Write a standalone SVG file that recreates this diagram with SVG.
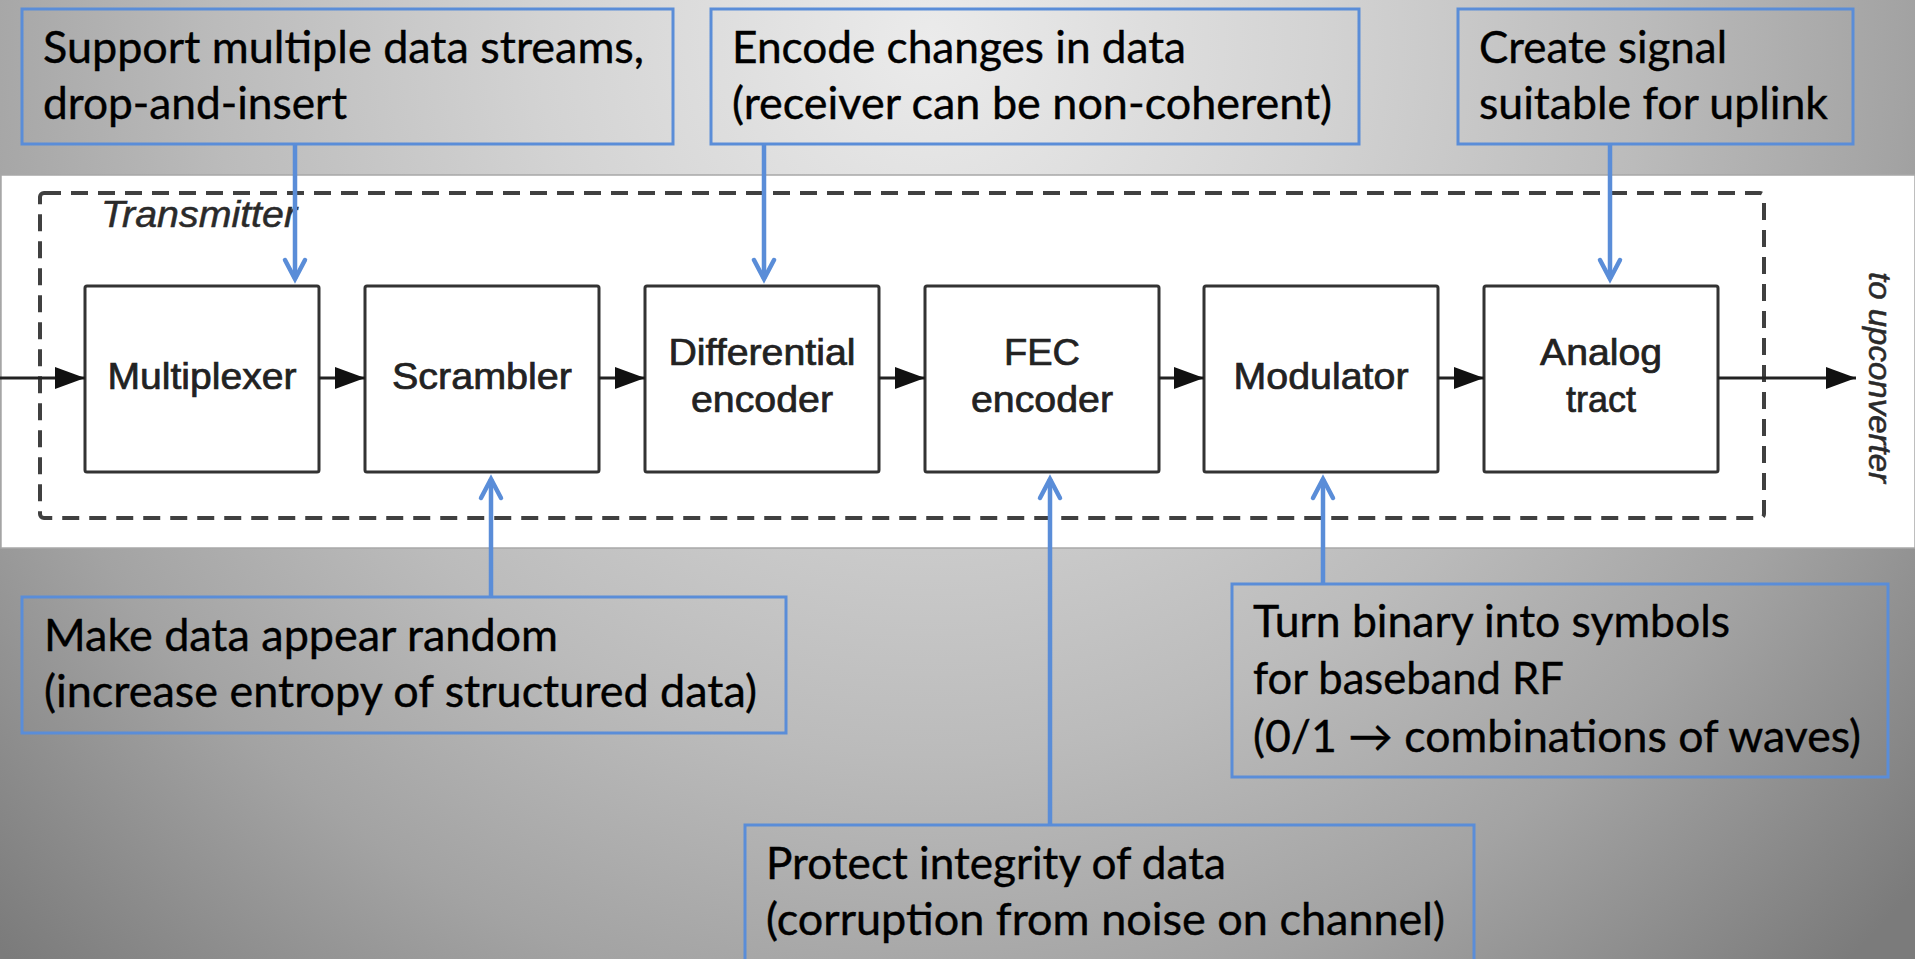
<svg xmlns="http://www.w3.org/2000/svg" width="1915" height="959" viewBox="0 0 1915 959">
  <defs>
    <radialGradient id="slideBg" gradientUnits="userSpaceOnUse" cx="930" cy="40" r="1300">
      <stop offset="0" stop-color="#ebebeb"/>
      <stop offset="0.3" stop-color="#d3d3d3"/>
      <stop offset="0.55" stop-color="#bbbbbb"/>
      <stop offset="0.75" stop-color="#a3a3a3"/>
      <stop offset="1" stop-color="#7b7b7b"/>
    </radialGradient>
    <!-- solid black arrowhead for the signal path -->
    <marker id="flowHead" markerUnits="userSpaceOnUse" orient="auto" overflow="visible" markerWidth="32" markerHeight="24" refX="0" refY="0">
      <path d="M-30,-11 L0,0 L-30,11 Z" fill="#111"/>
    </marker>
    <!-- open chevron for the blue callout pointers -->
    <marker id="calloutHead" markerUnits="userSpaceOnUse" orient="auto" overflow="visible" markerWidth="24" markerHeight="24" refX="0" refY="0">
      <path d="M-19,-10 L0,0 L-19,10" fill="none" stroke="#5a8dd8" stroke-width="4.5" stroke-linejoin="miter" stroke-linecap="round"/>
    </marker>
  </defs>
  <style>
    .callout { fill: none; stroke: #5a8dd8; stroke-width: 3; }
    .note { font-family: Lato, "Open Sans", "Liberation Sans", sans-serif; font-size: 44px; fill: #000; stroke: #000; stroke-width: 0.4; }
    .block { fill: #fff; stroke: #333; stroke-width: 3; }
    .blabel { font-family: "Liberation Sans", Arial, sans-serif; font-size: 36px; fill: #222; stroke: #222; stroke-width: 0.7; text-anchor: middle; }
    .ital { font-family: "Liberation Sans", Arial, sans-serif; font-style: italic; fill: #2a2a2a; stroke: #2a2a2a; stroke-width: 0.5; }
    .flow { stroke: #222; stroke-width: 2.8; fill: none; marker-end: url(#flowHead); }
    .pointer { stroke: #5a8dd8; stroke-width: 4.5; fill: none; marker-end: url(#calloutHead); }
  </style>

  <!-- slide background -->
  <rect x="0" y="0" width="1915" height="959" fill="url(#slideBg)"/>

  <!-- transmitter block diagram strip -->
  <rect x="1" y="175" width="1914" height="373" fill="#fff" stroke="#a8a8a8" stroke-width="1.5"/>

  <g id="transmitter-frame">
    <rect x="40" y="193" width="1724" height="325" rx="4" fill="none" stroke="#404040" stroke-width="4" stroke-dasharray="17 10"/>
    <text class="ital" x="101" y="227" font-size="36" textLength="196" lengthAdjust="spacingAndGlyphs">Transmitter</text>
  </g>

  <g id="multiplexer">
    <rect class="block" x="85" y="286" width="234" height="186" rx="2"/>
    <text class="blabel" x="202" y="389" textLength="189" lengthAdjust="spacingAndGlyphs">Multiplexer</text>
  </g>
  <g id="scrambler">
    <rect class="block" x="365" y="286" width="234" height="186" rx="2"/>
    <text class="blabel" x="482" y="389" textLength="180" lengthAdjust="spacingAndGlyphs">Scrambler</text>
  </g>
  <g id="differential-encoder">
    <rect class="block" x="645" y="286" width="234" height="186" rx="2"/>
    <text class="blabel" x="762" y="365" textLength="187" lengthAdjust="spacingAndGlyphs">Differential</text>
    <text class="blabel" x="762" y="412" textLength="142" lengthAdjust="spacingAndGlyphs">encoder</text>
  </g>
  <g id="fec-encoder">
    <rect class="block" x="925" y="286" width="234" height="186" rx="2"/>
    <text class="blabel" x="1042" y="365" textLength="76" lengthAdjust="spacingAndGlyphs">FEC</text>
    <text class="blabel" x="1042" y="412" textLength="142" lengthAdjust="spacingAndGlyphs">encoder</text>
  </g>
  <g id="modulator">
    <rect class="block" x="1204" y="286" width="234" height="186" rx="2"/>
    <text class="blabel" x="1321" y="389" textLength="175" lengthAdjust="spacingAndGlyphs">Modulator</text>
  </g>
  <g id="analog-tract">
    <rect class="block" x="1484" y="286" width="234" height="186" rx="2"/>
    <text class="blabel" x="1601" y="365" textLength="122" lengthAdjust="spacingAndGlyphs">Analog</text>
    <text class="blabel" x="1601" y="412" textLength="70" lengthAdjust="spacingAndGlyphs">tract</text>
  </g>

  <g id="upconverter-label">
    <text class="ital" transform="translate(1869,272) rotate(90)" x="0" y="0" font-size="31" textLength="211" lengthAdjust="spacingAndGlyphs">to upconverter</text>
  </g>

  <!-- callout notes -->
  <g id="note-multiplexer">
    <rect class="callout" x="22" y="9" width="651" height="135"/>
    <text class="note" x="43" y="63" textLength="601" lengthAdjust="spacingAndGlyphs">Support multiple data streams,</text>
    <text class="note" x="43" y="119" textLength="304" lengthAdjust="spacingAndGlyphs">drop-and-insert</text>
  </g>
  <g id="note-differential">
    <rect class="callout" x="711" y="9" width="648" height="135"/>
    <text class="note" x="732" y="63" textLength="454" lengthAdjust="spacingAndGlyphs">Encode changes in data</text>
    <text class="note" x="732" y="119" textLength="600" lengthAdjust="spacingAndGlyphs">(receiver can be non-coherent)</text>
  </g>
  <g id="note-analog">
    <rect class="callout" x="1458" y="9" width="395" height="135"/>
    <text class="note" x="1479" y="63" textLength="248" lengthAdjust="spacingAndGlyphs">Create signal</text>
    <text class="note" x="1479" y="119" textLength="349" lengthAdjust="spacingAndGlyphs">suitable for uplink</text>
  </g>
  <g id="note-scrambler">
    <rect class="callout" x="22" y="597" width="764" height="136"/>
    <text class="note" x="44" y="651" textLength="514" lengthAdjust="spacingAndGlyphs">Make data appear random</text>
    <text class="note" x="44" y="707" textLength="713" lengthAdjust="spacingAndGlyphs">(increase entropy of structured data)</text>
  </g>
  <g id="note-modulator">
    <rect class="callout" x="1232" y="584" width="656" height="193"/>
    <text class="note" x="1253" y="637" textLength="477" lengthAdjust="spacingAndGlyphs">Turn binary into symbols</text>
    <text class="note" x="1253" y="694" textLength="311" lengthAdjust="spacingAndGlyphs">for baseband RF</text>
    <text class="note" x="1253" y="752" textLength="608" lengthAdjust="spacingAndGlyphs">(0/1 → combinations of waves)</text>
  </g>
  <g id="note-fec">
    <rect class="callout" x="745" y="825" width="729" height="145"/>
    <text class="note" x="766" y="879" textLength="460" lengthAdjust="spacingAndGlyphs">Protect integrity of data</text>
    <text class="note" x="766" y="935" textLength="679" lengthAdjust="spacingAndGlyphs">(corruption from noise on channel)</text>
  </g>

  <!-- connectors: signal path and callout pointers -->
  <g id="connectors">
    <line class="flow" x1="0" y1="378" x2="85" y2="378"/>
    <line class="flow" x1="319" y1="378" x2="365" y2="378"/>
    <line class="flow" x1="599" y1="378" x2="645" y2="378"/>
    <line class="flow" x1="879" y1="378" x2="925" y2="378"/>
    <line class="flow" x1="1159" y1="378" x2="1204" y2="378"/>
    <line class="flow" x1="1438" y1="378" x2="1484" y2="378"/>
    <line class="flow" x1="1718" y1="378" x2="1856" y2="378"/>

    <line class="pointer" x1="295" y1="144" x2="295" y2="279"/>
    <line class="pointer" x1="764" y1="144" x2="764" y2="279"/>
    <line class="pointer" x1="1610" y1="144" x2="1610" y2="279"/>
    <line class="pointer" x1="491" y1="597" x2="491" y2="479"/>
    <line class="pointer" x1="1050" y1="825" x2="1050" y2="479"/>
    <line class="pointer" x1="1323" y1="584" x2="1323" y2="479"/>
  </g>
</svg>
